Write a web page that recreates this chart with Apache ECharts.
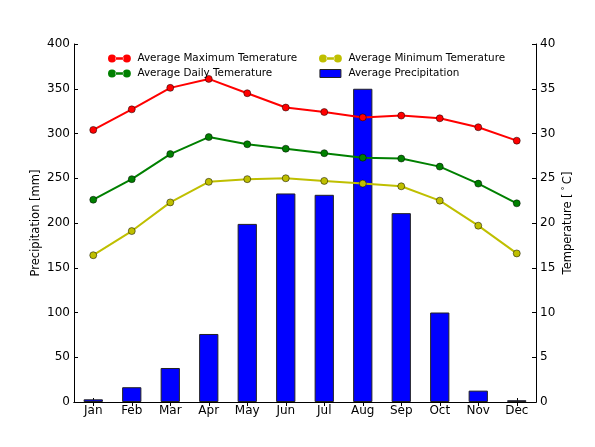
<!DOCTYPE html>
<html>
<head>
<meta charset="utf-8">
<script src="https://cdn.jsdelivr.net/npm/echarts@6/dist/echarts.min.js"></script>
<style>html,body{margin:0;padding:0;background:#fff}#c{width:595px;height:447px}</style>
</head>
<body>
<div id="c"></div>
<script>
const months = ['Jan','Feb','Mar','Apr','May','Jun','Jul','Aug','Sep','Oct','Nov','Dec'];
const precipitation = [3, 16.5, 38, 76, 199, 233, 231.5, 350, 211, 100, 12.7, 2];
const maxTemp = [30.4, 32.7, 35.1, 36.1, 34.5, 32.9, 32.4, 31.8, 32.0, 31.7, 30.7, 29.2];
const dailyTemp = [22.6, 24.9, 27.7, 29.6, 28.8, 28.3, 27.8, 27.3, 27.2, 26.3, 24.4, 22.2];
const minTemp = [16.4, 19.1, 22.3, 24.6, 24.9, 25.0, 24.7, 24.4, 24.1, 22.5, 19.7, 16.6];
const precipTicks = {min: 0, max: 400, interval: 50};
const tempTicks = {min: 0, max: 40, interval: 5};

const FONT = 'DejaVu Sans';
const lineIcon = 'path://M0,3.5 A3.5,3.5 0 1,0 7,3.5 A3.5,3.5 0 1,0 0,3.5 Z M6.5,2.5 L13.5,2.5 L13.5,4.5 L6.5,4.5 Z M13,3.5 A3.5,3.5 0 1,0 20,3.5 A3.5,3.5 0 1,0 13,3.5 Z';
const rectIcon = 'path://M0,0 L21,0 L21,8 L0,8 Z';

function lineSeries(name, data, color) {
  return {
    name, type: 'line', yAxisIndex: 1, data,
    symbol: 'circle', symbolSize: 7,
    lineStyle: {color, width: 2},
    itemStyle: {color, borderColor: '#000', borderWidth: 0.5},
    emphasis: {disabled: true}, z: 3
  };
}

const chart = echarts.init(document.getElementById('c'));
const axisLine = {show: true, lineStyle: {color: '#000', width: 1}};
const axisTick = {show: true, inside: true, length: 4, lineStyle: {color: '#000'}};
const axisLabel = {color: '#000', fontSize: 12, fontFamily: FONT};
const legendText = {fontSize: 10.4, fontFamily: FONT, color: '#000', lineHeight: 13};
const nameStyle = {color: '#000', fontSize: 11.5, fontFamily: FONT};

chart.setOption({
  animation: false,
  grid: {left: 74, right: 59, top: 44, bottom: 45},
  legend: [
    {left: 103, top: 47, orient: 'vertical', itemWidth: 26, itemHeight: 8, itemGap: 2,
     textStyle: legendText, selectedMode: false, itemStyle: {borderWidth: 0},
     data: [{name: 'Average Maximum Temerature', icon: lineIcon},
            {name: 'Average Daily Temerature', icon: lineIcon}]},
    {left: 314, top: 47, orient: 'vertical', itemWidth: 26, itemHeight: 8, itemGap: 2,
     textStyle: legendText, selectedMode: false, itemStyle: {borderWidth: 0},
     data: [{name: 'Average Minimum Temerature', icon: lineIcon},
            {name: 'Average Precipitation', icon: rectIcon, itemStyle: {borderWidth: 1, borderColor: '#222'}}]}
  ],
  xAxis: [
    {type: 'category', data: months, position: 'bottom', boundaryGap: true,
     axisLine, axisTick: Object.assign({alignWithLabel: true}, axisTick),
     axisLabel: Object.assign({margin: 3}, axisLabel), splitLine: {show: false}},
    {type: 'category', data: months, position: 'top', boundaryGap: true,
     axisLine, axisTick: Object.assign({alignWithLabel: true}, axisTick),
     axisLabel: {show: false}, splitLine: {show: false}}
  ],
  yAxis: [
    {type: 'value', position: 'left', min: precipTicks.min, max: precipTicks.max, interval: precipTicks.interval,
     axisLine, axisTick, axisLabel: Object.assign({margin: 4}, axisLabel), splitLine: {show: false},
     name: 'Precipitation [mm]', nameLocation: 'middle', nameGap: 32, nameRotate: 90, nameMoveOverlap: false,
     nameTextStyle: nameStyle},
    {type: 'value', position: 'right', min: tempTicks.min, max: tempTicks.max, interval: tempTicks.interval,
     axisLine, axisTick, axisLabel: Object.assign({margin: 4}, axisLabel), splitLine: {show: false},
     name: 'Temperature [{s|°}C]', nameLocation: 'middle', nameGap: 25, nameRotate: 90, nameMoveOverlap: false,
     nameTextStyle: Object.assign({}, nameStyle, {
       rich: {s: {fontSize: 8.5, fontFamily: FONT, color: '#000', padding: [0, 2, 6, 3]}}})}
  ],
  series: [
    {name: 'Average Precipitation', type: 'bar', data: precipitation, barWidth: '50%',
     itemStyle: {color: '#0000ff', borderColor: '#222', borderWidth: 1}, emphasis: {disabled: true}, z: 2},
    lineSeries('Average Maximum Temerature', maxTemp, '#ff0000'),
    lineSeries('Average Daily Temerature', dailyTemp, '#008000'),
    lineSeries('Average Minimum Temerature', minTemp, '#bfbf00')
  ]
});
</script>
</body>
</html>
